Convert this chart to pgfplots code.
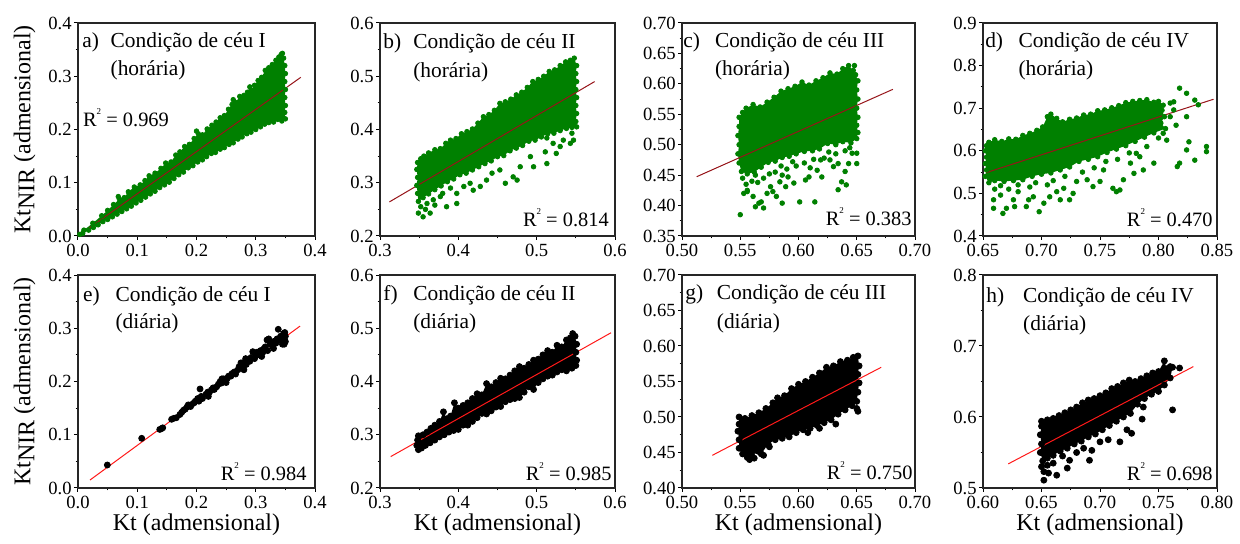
\documentclass[border=0pt]{standalone}
\usepackage{pgfplots}
\pgfplotsset{compat=1.18}
\usepackage{pgfplotstable}
\usepackage{fontspec}
\setmainfont{Liberation Serif}

\definecolor{cgreen}{RGB}{0,128,0}
\definecolor{fitdark}{RGB}{150,20,25}
\definecolor{fitred}{RGB}{255,25,25}

\newcommand{\rsq}[1]{R\raisebox{0.6em}{\fontsize{4.5pt}{5pt}\selectfont 2} = #1}

% ---------- hourly data (outline of the dense cloud + scattered points) ----------
\pgfplotstableread[row sep=\\]{x y\\
0.003 0.003\\ 0.01 0.011\\ 0.025 0.024\\ 0.04 0.038\\ 0.05 0.048\\ 0.06 0.059\\ 0.07 0.069\\ 0.078 0.072\\ 0.085 0.083\\ 0.095 0.092\\
0.105 0.096\\ 0.113 0.104\\ 0.12 0.113\\ 0.13 0.118\\ 0.14 0.127\\ 0.148 0.137\\ 0.157 0.139\\ 0.165 0.152\\ 0.172 0.158\\ 0.18 0.168\\
0.188 0.172\\ 0.196 0.183\\ 0.203 0.192\\ 0.21 0.19\\ 0.218 0.201\\ 0.226 0.208\\ 0.233 0.214\\ 0.24 0.222\\ 0.247 0.226\\ 0.254 0.238\\
0.26 0.247\\ 0.266 0.251\\ 0.273 0.262\\ 0.28 0.264\\ 0.286 0.27\\ 0.292 0.274\\ 0.298 0.283\\ 0.304 0.292\\ 0.31 0.298\\ 0.316 0.311\\
0.322 0.316\\ 0.328 0.322\\ 0.334 0.33\\ 0.339 0.336\\ 0.343 0.341\\ 0.347 0.334\\
0.349 0.32\\ 0.35 0.305\\ 0.349 0.29\\ 0.35 0.275\\ 0.349 0.26\\ 0.35 0.245\\ 0.349 0.232\\ 0.35 0.22\\
0.344 0.216\\ 0.337 0.219\\ 0.33 0.214\\ 0.322 0.213\\ 0.315 0.21\\ 0.308 0.205\\ 0.3 0.2\\ 0.292 0.195\\ 0.285 0.192\\ 0.277 0.186\\
0.27 0.182\\ 0.262 0.175\\ 0.255 0.172\\ 0.247 0.166\\ 0.24 0.163\\ 0.232 0.157\\ 0.225 0.155\\ 0.217 0.149\\ 0.21 0.143\\ 0.202 0.139\\
0.194 0.132\\ 0.186 0.128\\ 0.178 0.12\\ 0.17 0.115\\ 0.162 0.108\\ 0.154 0.101\\ 0.146 0.096\\ 0.138 0.091\\ 0.13 0.084\\ 0.122 0.079\\
0.114 0.073\\ 0.106 0.067\\ 0.098 0.062\\ 0.09 0.056\\ 0.082 0.051\\ 0.074 0.046\\ 0.066 0.041\\ 0.058 0.036\\ 0.05 0.031\\ 0.042 0.027\\
0.034 0.021\\ 0.026 0.016\\ 0.018 0.011\\ 0.008 0.005\\
}\bndA
\pgfplotstableread[row sep=\\]{x y\\
0.068 0.074\\ 0.2 0.197\\ 0.262 0.256\\ 0.345 0.343\\ 0.29 0.28\\
}\outA

\pgfplotstableread[row sep=\\]{x y\\
0.348 0.338\\ 0.352 0.345\\ 0.356 0.35\\ 0.362 0.356\\ 0.37 0.362\\ 0.377 0.364\\ 0.384 0.374\\ 0.39 0.38\\ 0.397 0.383\\ 0.404 0.392\\
0.411 0.396\\ 0.418 0.401\\ 0.425 0.412\\ 0.432 0.424\\ 0.439 0.428\\ 0.446 0.436\\ 0.453 0.449\\ 0.46 0.452\\ 0.467 0.457\\ 0.474 0.465\\
0.481 0.47\\ 0.488 0.479\\ 0.495 0.49\\ 0.502 0.494\\ 0.509 0.5\\ 0.516 0.509\\ 0.523 0.512\\ 0.53 0.52\\ 0.537 0.527\\ 0.543 0.53\\ 0.548 0.534\\
0.551 0.52\\ 0.55 0.505\\ 0.551 0.49\\ 0.55 0.475\\ 0.551 0.46\\ 0.55 0.445\\ 0.551 0.43\\ 0.55 0.415\\ 0.551 0.405\\
0.545 0.404\\ 0.538 0.402\\ 0.53 0.398\\ 0.522 0.393\\ 0.514 0.392\\ 0.506 0.386\\ 0.498 0.38\\ 0.49 0.378\\ 0.482 0.37\\ 0.474 0.365\\
0.466 0.36\\ 0.458 0.351\\ 0.45 0.349\\ 0.442 0.341\\ 0.434 0.336\\ 0.426 0.33\\ 0.418 0.324\\ 0.41 0.318\\ 0.402 0.315\\ 0.394 0.307\\
0.386 0.302\\ 0.378 0.294\\ 0.37 0.287\\ 0.362 0.279\\ 0.355 0.272\\ 0.349 0.265\\
0.348 0.28\\ 0.347 0.295\\ 0.348 0.31\\ 0.347 0.325\\
}\bndB
\pgfplotstableread[row sep=\\]{x y\\
0.349 0.243\\ 0.355 0.236\\ 0.364 0.243\\ 0.36 0.261\\ 0.368 0.268\\ 0.377 0.274\\ 0.385 0.255\\ 0.398 0.261\\ 0.398 0.28\\ 0.407 0.293\\
0.415 0.299\\ 0.419 0.286\\ 0.428 0.293\\ 0.436 0.305\\ 0.443 0.318\\ 0.453 0.324\\ 0.46 0.299\\ 0.47 0.311\\ 0.475 0.305\\ 0.479 0.33\\
0.492 0.349\\ 0.496 0.33\\ 0.513 0.336\\ 0.511 0.358\\ 0.521 0.374\\ 0.525 0.355\\ 0.53 0.368\\ 0.534 0.38\\ 0.543 0.374\\ 0.547 0.38\\
0.545 0.393\\ 0.513 0.384\\ 0.352 0.255\\ 0.358 0.25\\ 0.37 0.258\\ 0.38 0.28\\ 0.39 0.29\\
}\outB

\pgfplotstableread[row sep=\\]{x y\\
0.549 0.545\\ 0.552 0.553\\ 0.555 0.56\\ 0.561 0.566\\ 0.567 0.562\\ 0.573 0.57\\ 0.579 0.578\\ 0.585 0.588\\ 0.591 0.592\\ 0.597 0.596\\
0.603 0.603\\ 0.609 0.598\\ 0.615 0.605\\ 0.621 0.61\\ 0.627 0.618\\ 0.633 0.616\\ 0.638 0.625\\ 0.643 0.63\\ 0.647 0.622\\ 0.649 0.615\\
0.651 0.605\\ 0.65 0.59\\ 0.651 0.575\\ 0.65 0.56\\ 0.651 0.545\\ 0.65 0.532\\ 0.651 0.52\\ 0.65 0.51\\
0.645 0.503\\ 0.638 0.505\\ 0.632 0.5\\ 0.625 0.502\\ 0.618 0.493\\ 0.612 0.49\\ 0.605 0.489\\ 0.598 0.485\\ 0.592 0.481\\ 0.586 0.479\\
0.58 0.473\\ 0.574 0.471\\ 0.568 0.463\\ 0.562 0.455\\ 0.556 0.452\\ 0.551 0.456\\
0.549 0.47\\ 0.548 0.485\\ 0.549 0.5\\ 0.548 0.515\\ 0.549 0.53\\
}\bndC
\pgfplotstableread[row sep=\\]{x y\\
0.55 0.385\\ 0.553 0.42\\ 0.556 0.423\\ 0.561 0.415\\ 0.563 0.398\\ 0.566 0.404\\ 0.568 0.406\\ 0.57 0.396\\ 0.573 0.42\\ 0.576 0.431\\
0.578 0.423\\ 0.581 0.415\\ 0.584 0.439\\ 0.586 0.404\\ 0.589 0.431\\ 0.591 0.447\\ 0.596 0.437\\ 0.601 0.406\\ 0.606 0.442\\ 0.609 0.447\\
0.614 0.406\\ 0.616 0.458\\ 0.619 0.475\\ 0.62 0.447\\ 0.627 0.475\\ 0.63 0.464\\ 0.634 0.469\\ 0.634 0.426\\ 0.637 0.439\\ 0.64 0.456\\
0.641 0.434\\ 0.643 0.469\\ 0.65 0.469\\ 0.646 0.486\\ 0.65 0.486\\ 0.555 0.435\\ 0.56 0.44\\ 0.565 0.438\\ 0.57 0.445\\ 0.575 0.452\\
0.58 0.455\\ 0.59 0.46\\ 0.598 0.465\\ 0.605 0.47\\ 0.61 0.462\\ 0.622 0.478\\ 0.632 0.485\\ 0.64 0.49\\ 0.556 0.425\\ 0.586 0.45\\
0.552 0.445\\ 0.563 0.45\\ 0.585 0.465\\ 0.595 0.472\\ 0.613 0.476\\ 0.626 0.488\\ 0.644 0.495\\ 0.648 0.63\\ 0.644 0.612\\
}\outC

\pgfplotstableread[row sep=\\]{x y\\
0.655 0.62\\ 0.66 0.626\\ 0.666 0.622\\ 0.672 0.628\\ 0.678 0.627\\ 0.684 0.636\\ 0.69 0.641\\ 0.696 0.648\\ 0.701 0.656\\ 0.705 0.68\\
0.708 0.686\\ 0.713 0.676\\ 0.718 0.668\\ 0.724 0.674\\ 0.73 0.677\\ 0.736 0.684\\ 0.742 0.686\\ 0.748 0.694\\ 0.754 0.696\\ 0.76 0.701\\
0.766 0.706\\ 0.772 0.713\\ 0.778 0.716\\ 0.784 0.718\\ 0.79 0.72\\ 0.796 0.714\\ 0.8 0.716\\ 0.804 0.707\\
0.803 0.695\\ 0.805 0.68\\ 0.802 0.665\\ 0.806 0.652\\
0.796 0.642\\ 0.788 0.632\\ 0.78 0.622\\ 0.772 0.612\\ 0.764 0.604\\ 0.756 0.596\\ 0.748 0.586\\ 0.74 0.58\\ 0.732 0.575\\ 0.724 0.562\\
0.716 0.555\\ 0.708 0.548\\ 0.7 0.545\\ 0.692 0.54\\ 0.684 0.532\\ 0.676 0.53\\ 0.668 0.528\\ 0.66 0.53\\ 0.655 0.525\\
0.652 0.54\\ 0.653 0.555\\ 0.652 0.57\\ 0.653 0.585\\ 0.652 0.6\\ 0.653 0.612\\
}\bndD
\pgfplotstableread[row sep=\\]{x y\\
0.659 0.465\\ 0.659 0.485\\ 0.665 0.496\\ 0.667 0.453\\ 0.67 0.465\\ 0.676 0.485\\ 0.677 0.469\\ 0.68 0.504\\ 0.687 0.469\\ 0.689 0.485\\
0.693 0.492\\ 0.698 0.457\\ 0.702 0.477\\ 0.707 0.492\\ 0.713 0.504\\ 0.716 0.485\\ 0.719 0.512\\ 0.724 0.485\\ 0.727 0.5\\ 0.73 0.528\\
0.739 0.532\\ 0.744 0.516\\ 0.75 0.528\\ 0.753 0.555\\ 0.761 0.512\\ 0.764 0.504\\ 0.767 0.508\\ 0.77 0.532\\ 0.776 0.571\\ 0.779 0.547\\
0.781 0.594\\ 0.784 0.586\\ 0.787 0.555\\ 0.796 0.571\\ 0.799 0.657\\ 0.804 0.641\\ 0.807 0.625\\ 0.81 0.712\\ 0.813 0.696\\ 0.816 0.563\\
0.818 0.571\\ 0.824 0.602\\ 0.826 0.621\\ 0.831 0.578\\ 0.841 0.61\\ 0.841 0.598\\ 0.818 0.747\\ 0.824 0.735\\ 0.831 0.719\\ 0.834 0.708\\
0.824 0.68\\ 0.813 0.715\\ 0.66 0.51\\ 0.665 0.518\\ 0.672 0.51\\ 0.68 0.52\\ 0.69 0.515\\ 0.695 0.525\\ 0.705 0.52\\ 0.71 0.53\\
0.72 0.54\\ 0.735 0.55\\ 0.745 0.56\\ 0.755 0.575\\ 0.765 0.58\\ 0.775 0.595\\ 0.79 0.61\\ 0.8 0.63\\ 0.81 0.68\\ 0.815 0.66\\
}\outD

% ---------- daily data ----------
\pgfplotstableread[row sep=\\]{x y\\
0.0495 0.0432\\ 0.1075 0.0933\\ 0.138 0.11\\ 0.141 0.1115\\ 0.143 0.113\\ 0.158 0.129\\ 0.162 0.131\\ 0.166 0.132\\ 0.172 0.138\\ 0.175 0.142\\
0.178 0.146\\ 0.181 0.148\\ 0.184 0.152\\ 0.186 0.156\\ 0.19 0.153\\ 0.192 0.157\\ 0.196 0.16\\ 0.198 0.163\\ 0.202 0.168\\ 0.204 0.163\\
0.206 0.186\\ 0.208 0.172\\ 0.21 0.168\\ 0.216 0.176\\ 0.219 0.18\\ 0.22 0.172\\ 0.222 0.18\\ 0.225 0.184\\ 0.228 0.188\\ 0.23 0.185\\
0.234 0.19\\ 0.237 0.195\\ 0.24 0.2\\ 0.242 0.197\\ 0.243 0.205\\ 0.246 0.205\\ 0.248 0.2\\ 0.25 0.198\\ 0.252 0.206\\ 0.254 0.21\\
0.258 0.21\\ 0.26 0.215\\ 0.264 0.218\\ 0.266 0.214\\ 0.27 0.222\\ 0.272 0.228\\ 0.275 0.235\\ 0.278 0.228\\ 0.28 0.236\\ 0.28 0.222\\
0.283 0.243\\ 0.284 0.232\\ 0.286 0.24\\ 0.29 0.238\\ 0.292 0.245\\ 0.295 0.256\\ 0.298 0.243\\ 0.3 0.25\\ 0.302 0.255\\ 0.306 0.25\\
0.308 0.258\\ 0.31 0.247\\ 0.312 0.255\\ 0.314 0.262\\ 0.316 0.265\\ 0.319 0.278\\ 0.32 0.258\\ 0.322 0.28\\ 0.324 0.27\\ 0.328 0.268\\
0.33 0.275\\ 0.33 0.262\\ 0.334 0.272\\ 0.336 0.28\\ 0.338 0.298\\ 0.34 0.278\\ 0.342 0.285\\ 0.345 0.282\\ 0.345 0.27\\ 0.346 0.275\\
0.347 0.29\\ 0.348 0.27\\ 0.349 0.292\\ 0.35 0.275\\ 0.35 0.285\\
}\ptsE

\pgfplotstableread[row sep=\\]{x y\\
0.349 0.298\\ 0.355 0.3\\ 0.36 0.305\\ 0.365 0.312\\ 0.37 0.318\\ 0.376 0.325\\ 0.381 0.343\\ 0.385 0.33\\ 0.39 0.335\\ 0.395 0.36\\
0.4 0.35\\ 0.406 0.355\\ 0.412 0.36\\ 0.418 0.368\\ 0.424 0.377\\ 0.43 0.375\\ 0.436 0.396\\ 0.442 0.39\\ 0.448 0.398\\ 0.454 0.406\\
0.46 0.405\\ 0.466 0.412\\ 0.472 0.42\\ 0.478 0.428\\ 0.484 0.425\\ 0.49 0.432\\ 0.496 0.44\\ 0.502 0.442\\ 0.508 0.45\\ 0.514 0.458\\
0.52 0.455\\ 0.526 0.468\\ 0.532 0.465\\ 0.538 0.478\\ 0.543 0.482\\ 0.546 0.49\\ 0.549 0.485\\
0.551 0.47\\ 0.55 0.455\\ 0.551 0.44\\ 0.55 0.43\\
0.545 0.425\\ 0.538 0.42\\ 0.532 0.422\\ 0.526 0.418\\ 0.52 0.412\\ 0.514 0.41\\ 0.508 0.405\\ 0.502 0.398\\ 0.496 0.385\\ 0.49 0.39\\
0.484 0.38\\ 0.478 0.37\\ 0.472 0.368\\ 0.466 0.366\\ 0.46 0.362\\ 0.454 0.353\\ 0.448 0.352\\ 0.442 0.345\\ 0.436 0.339\\ 0.43 0.34\\
0.424 0.332\\ 0.418 0.325\\ 0.412 0.318\\ 0.406 0.318\\ 0.4 0.31\\ 0.394 0.308\\ 0.388 0.305\\ 0.382 0.3\\ 0.376 0.296\\ 0.37 0.29\\
0.364 0.285\\ 0.358 0.28\\ 0.353 0.275\\ 0.349 0.272\\ 0.347 0.28\\ 0.348 0.29\\
}\bndF

\pgfplotstableread[row sep=\\]{x y\\
0.549 0.5\\ 0.554 0.498\\ 0.56 0.502\\ 0.566 0.506\\ 0.572 0.512\\ 0.578 0.52\\ 0.582 0.527\\ 0.588 0.53\\ 0.594 0.54\\ 0.6 0.546\\
0.606 0.55\\ 0.612 0.556\\ 0.618 0.562\\ 0.624 0.57\\ 0.63 0.572\\ 0.636 0.578\\ 0.642 0.58\\ 0.647 0.584\\ 0.651 0.586\\
0.652 0.572\\ 0.651 0.56\\ 0.652 0.548\\ 0.651 0.535\\ 0.65 0.522\\
0.646 0.516\\ 0.64 0.51\\ 0.634 0.504\\ 0.628 0.496\\ 0.622 0.492\\ 0.616 0.488\\ 0.61 0.484\\ 0.604 0.482\\ 0.598 0.478\\ 0.592 0.472\\
0.586 0.47\\ 0.58 0.468\\ 0.574 0.462\\ 0.568 0.448\\ 0.565 0.452\\ 0.56 0.445\\ 0.556 0.443\\ 0.552 0.448\\ 0.549 0.456\\
0.549 0.468\\ 0.548 0.48\\ 0.549 0.49\\
}\bndG
\pgfplotstableread[row sep=\\]{x y\\
0.65 0.512\\ 0.651 0.508\\ 0.57 0.446\\ 0.575 0.458\\ 0.558 0.44\\ 0.562 0.442\\ 0.608 0.478\\ 0.618 0.484\\ 0.632 0.49\\
}\outG

\pgfplotstableread[row sep=\\]{x y\\
0.65 0.594\\ 0.655 0.596\\ 0.66 0.598\\ 0.665 0.602\\ 0.67 0.606\\ 0.675 0.61\\ 0.68 0.614\\ 0.685 0.62\\ 0.69 0.624\\ 0.695 0.626\\
0.7 0.63\\ 0.705 0.634\\ 0.71 0.64\\ 0.715 0.643\\ 0.72 0.648\\ 0.725 0.652\\ 0.73 0.65\\ 0.735 0.654\\ 0.74 0.658\\ 0.745 0.662\\
0.75 0.664\\ 0.755 0.679\\ 0.757 0.668\\ 0.762 0.67\\
0.76 0.655\\ 0.755 0.645\\
0.75 0.636\\ 0.744 0.632\\ 0.738 0.626\\ 0.732 0.618\\ 0.726 0.605\\ 0.72 0.6\\ 0.714 0.594\\ 0.708 0.588\\ 0.702 0.582\\ 0.696 0.576\\
0.69 0.572\\ 0.684 0.566\\ 0.678 0.562\\ 0.672 0.556\\ 0.666 0.552\\ 0.66 0.546\\ 0.655 0.542\\ 0.651 0.538\\
0.649 0.55\\ 0.65 0.562\\ 0.649 0.575\\ 0.65 0.587\\
}\bndH
\pgfplotstableread[row sep=\\]{x y\\
0.652 0.511\\ 0.652 0.523\\ 0.656 0.521\\ 0.663 0.518\\ 0.66 0.535\\ 0.672 0.528\\ 0.674 0.539\\ 0.691 0.539\\ 0.693 0.553\\ 0.7 0.565\\
0.707 0.568\\ 0.717 0.565\\ 0.723 0.582\\ 0.727 0.577\\ 0.736 0.597\\ 0.737 0.614\\ 0.762 0.61\\ 0.768 0.669\\ 0.76 0.671\\ 0.745 0.648\\
0.65 0.53\\ 0.655 0.532\\ 0.668 0.545\\ 0.68 0.55\\ 0.686 0.556\\
}\outH

\pgfplotsset{
  panel/.style={
    scale only axis, height=106.5pt, anchor=south west,
    axis line style={line width=0.6pt, black!85},
    tick align=outside, tick pos=left,
    major tick length=2pt, minor tick length=1.2pt,
    minor x tick num=1, minor y tick num=1,
    every tick/.style={black, line width=0.5pt},
    tick label style={font=\fontsize{9.3pt}{10pt}\selectfont, inner sep=1pt},
    xticklabel style={yshift=-1pt},
    xlabel style={font=\fontsize{12pt}{14pt}\selectfont, at={(axis description cs:0.5,-0.174)}, anchor=center},
    ylabel style={font=\fontsize{12pt}{14pt}\selectfont, at={(axis description cs:-0.225,0.5)}, anchor=center},
  },
  greenpts/.style={only marks, mark=*, mark size=1.15pt, color=cgreen},
  blackpts/.style={only marks, mark=*, mark size=1.5pt, color=black},
  greencore/.style={fill=cgreen, draw=none, mark=none},
  blackcore/.style={fill=black, draw=none, mark=none},
  fitH/.style={fitdark, line width=0.5pt, mark=none},
  fitD/.style={fitred, line width=0.5pt, mark=none},
}
\tikzset{
  lbl/.style={font=\fontsize{10.7pt}{12pt}\selectfont, inner sep=0pt, anchor=west},
  rlbl/.style={font=\fontsize{10.2pt}{12pt}\selectfont, inner sep=0pt},
}

\begin{document}
\begin{tikzpicture}
\useasboundingbox (0,0) rectangle (620pt,272pt);

% a) sky condition I, hourly
\begin{axis}[panel, at={(39pt,154pt)}, width=118.5pt,
  xmin=0, xmax=0.4, ymin=0, ymax=0.4,
  xtick={0,0.1,0.2,0.3,0.4}, xticklabels={0.0,0.1,0.2,0.3,0.4},
  ytick={0,0.1,0.2,0.3,0.4}, yticklabels={0.0,0.1,0.2,0.3,0.4},
  ylabel={Kt\raisebox{-2pt}{NIR} (admensional)}]
\addplot[greencore] table {\bndA};
\addplot[greenpts] table {\bndA};
\addplot[greenpts] table {\outA};
\addplot[fitH] coordinates {(0,0) (0.376,0.298)};
\node[lbl] at (axis description cs:0.017,0.911) {a)};
\node[lbl] at (axis description cs:0.136,0.911) {Condição de céu I};
\node[lbl] at (axis description cs:0.136,0.78) {(horária)};
\node[rlbl, anchor=west] at (axis description cs:0.02,0.554) {\rsq{0.969}};
\end{axis}

% b) sky condition II, hourly
\begin{axis}[panel, at={(190pt,154pt)}, width=117.5pt,
  xmin=0.3, xmax=0.6, ymin=0.2, ymax=0.6,
  xtick={0.3,0.4,0.5,0.6}, xticklabels={0.3,0.4,0.5,0.6},
  ytick={0.2,0.3,0.4,0.5,0.6}, yticklabels={0.2,0.3,0.4,0.5,0.6}]
\addplot[greencore] table {\bndB};
\addplot[greenpts] table {\bndB};
\addplot[greenpts] table {\outB};
\addplot[fitH] coordinates {(0.312,0.264) (0.574,0.49)};
\node[lbl] at (axis description cs:0.013,0.906) {b)};
\node[lbl] at (axis description cs:0.14,0.906) {Condição de céu II};
\node[lbl] at (axis description cs:0.14,0.77) {(horária)};
\node[rlbl, anchor=east] at (axis description cs:0.975,0.085) {\rsq{0.814}};
\end{axis}

% c) sky condition III, hourly
\begin{axis}[panel, at={(341pt,154pt)}, width=116.5pt,
  xmin=0.5, xmax=0.7, ymin=0.35, ymax=0.7,
  xtick={0.5,0.55,0.6,0.65,0.7}, xticklabels={0.50,0.55,0.60,0.65,0.70},
  ytick={0.35,0.4,0.45,0.5,0.55,0.6,0.65,0.7},
  yticklabels={0.35,0.40,0.45,0.50,0.55,0.60,0.65,0.70}]
\addplot[greencore] table {\bndC};
\addplot[greenpts] table {\bndC};
\addplot[greenpts] table {\outC};
\addplot[fitH] coordinates {(0.5126,0.4474) (0.681,0.591)};
\node[lbl] at (axis description cs:0.004,0.911) {c)};
\node[lbl] at (axis description cs:0.14,0.911) {Condição de céu III};
\node[lbl] at (axis description cs:0.14,0.779) {(horária)};
\node[rlbl, anchor=east] at (axis description cs:0.987,0.089) {\rsq{0.383}};
\end{axis}

% d) sky condition IV, hourly
\begin{axis}[panel, at={(491.5pt,154pt)}, width=117pt,
  xmin=0.65, xmax=0.85, ymin=0.4, ymax=0.9,
  xtick={0.65,0.7,0.75,0.8,0.85}, xticklabels={0.65,0.70,0.75,0.80,0.85},
  ytick={0.4,0.5,0.6,0.7,0.8,0.9}, yticklabels={0.4,0.5,0.6,0.7,0.8,0.9}]
\addplot[greencore] table {\bndD};
\addplot[greenpts] table {\bndD};
\addplot[greenpts] table {\outD};
\addplot[fitH] coordinates {(0.6526,0.5486) (0.847,0.721)};
\node[lbl] at (axis description cs:0.008,0.911) {d)};
\node[lbl] at (axis description cs:0.15,0.911) {Condição de céu IV};
\node[lbl] at (axis description cs:0.15,0.779) {(horária)};
\node[rlbl, anchor=east] at (axis description cs:0.983,0.085) {\rsq{0.470}};
\end{axis}

% e) sky condition I, daily
\begin{axis}[panel, at={(39pt,28pt)}, width=118.5pt,
  xmin=0, xmax=0.4, ymin=0, ymax=0.4,
  xtick={0,0.1,0.2,0.3,0.4}, xticklabels={0.0,0.1,0.2,0.3,0.4},
  ytick={0,0.1,0.2,0.3,0.4}, yticklabels={0.0,0.1,0.2,0.3,0.4},
  xlabel={Kt (admensional)},
  ylabel={Kt\raisebox{-2pt}{NIR} (admensional)}]
\addplot[blackpts] table {\ptsE};
\addplot[fitD] coordinates {(0.0203,0.015) (0.3747,0.304)};
\node[lbl] at (axis description cs:0.02,0.9) {e)};
\node[lbl] at (axis description cs:0.157,0.9) {Condição de céu I};
\node[lbl] at (axis description cs:0.157,0.775) {(diária)};
\node[rlbl, anchor=east] at (axis description cs:0.966,0.075) {\rsq{0.984}};
\end{axis}

% f) sky condition II, daily
\begin{axis}[panel, at={(190pt,28pt)}, width=117.5pt,
  xmin=0.3, xmax=0.6, ymin=0.2, ymax=0.6,
  xtick={0.3,0.4,0.5,0.6}, xticklabels={0.3,0.4,0.5,0.6},
  ytick={0.2,0.3,0.4,0.5,0.6}, yticklabels={0.2,0.3,0.4,0.5,0.6},
  xlabel={Kt (admensional)}]
\addplot[blackcore] table {\bndF};
\addplot[blackpts] table {\bndF};
\addplot[fitD] coordinates {(0.3137,0.259) (0.595,0.4916)};
\node[lbl] at (axis description cs:0.013,0.906) {f)};
\node[lbl] at (axis description cs:0.14,0.906) {Condição de céu II};
\node[lbl] at (axis description cs:0.14,0.775) {(diária)};
\node[rlbl, anchor=east] at (axis description cs:0.987,0.075) {\rsq{0.985}};
\end{axis}

% g) sky condition III, daily
\begin{axis}[panel, at={(341pt,28pt)}, width=116.5pt,
  xmin=0.5, xmax=0.7, ymin=0.4, ymax=0.7,
  xtick={0.5,0.55,0.6,0.65,0.7}, xticklabels={0.50,0.55,0.60,0.65,0.70},
  ytick={0.4,0.45,0.5,0.55,0.6,0.65,0.7},
  yticklabels={0.40,0.45,0.50,0.55,0.60,0.65,0.70},
  xlabel={Kt (admensional)}]
\addplot[blackcore] table {\bndG};
\addplot[blackpts] table {\bndG};
\addplot[blackpts] table {\outG};
\addplot[fitD] coordinates {(0.526,0.446) (0.671,0.57)};
\node[lbl] at (axis description cs:0.013,0.911) {g)};
\node[lbl] at (axis description cs:0.148,0.911) {Condição de céu III};
\node[lbl] at (axis description cs:0.148,0.775) {(diária)};
\node[rlbl, anchor=east] at (axis description cs:0.991,0.08) {\rsq{0.750}};
\end{axis}

% h) sky condition IV, daily
\begin{axis}[panel, at={(491.5pt,28pt)}, width=117pt,
  xmin=0.6, xmax=0.8, ymin=0.5, ymax=0.8,
  xtick={0.6,0.65,0.7,0.75,0.8}, xticklabels={0.60,0.65,0.70,0.75,0.80},
  ytick={0.5,0.6,0.7,0.8}, yticklabels={0.5,0.6,0.7,0.8},
  xlabel={Kt (admensional)}]
\addplot[blackcore] table {\bndH};
\addplot[blackpts] table {\bndH};
\addplot[blackpts] table {\outH};
\addplot[fitD] coordinates {(0.6216,0.534) (0.7798,0.671)};
\node[lbl] at (axis description cs:0.013,0.897) {h)};
\node[lbl] at (axis description cs:0.17,0.897) {Condição de céu IV};
\node[lbl] at (axis description cs:0.17,0.765) {(diária)};
\node[rlbl, anchor=east] at (axis description cs:0.983,0.075) {\rsq{0.698}};
\end{axis}
\end{tikzpicture}
\end{document}
